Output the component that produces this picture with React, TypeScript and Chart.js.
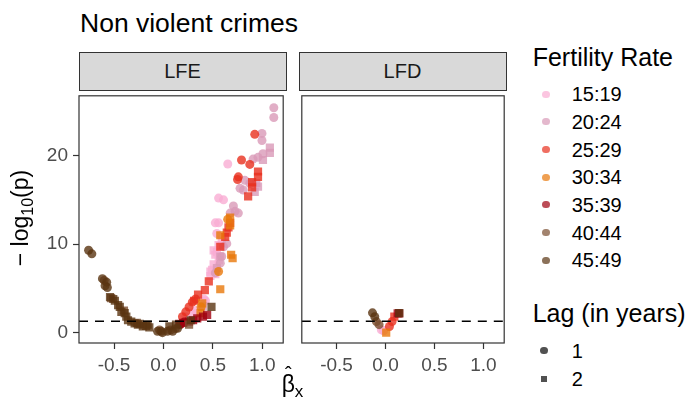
import React, { useEffect, useRef } from "react";
import { Chart, registerables } from "chart.js";
Chart.register(...registerables);

// ---------- data ----------
const CATEGORIES = ["15:19", "20:24", "25:29", "30:34", "35:39", "40:44", "45:49"];
const COLORS = ["#F9ADD3", "#D99AB8", "#E8301E", "#E8780A", "#A0000F", "#7A4E30", "#5A3512"];
const LAGS = ["1", "2"];
const PANELS = ["LFE", "LFD"];
const X_TICKS = [-0.5, 0, 0.5, 1.0];
const Y_TICKS = [0, 10, 20];
const X_LIMITS = [-0.855, 1.212];
const Y_LIMITS = [-1.17, 26.75];
const THRESHOLD = 1.3;

type P = [number, number];

// LFE panel: [beta, -log10(p)]
const LFE_F1519_L1: P[] = [[0.651, 19.05], [0.558, 15.2], [0.608, 15.0], [0.525, 12.4], [0.558, 12.4], [0.425, 3.6], [0.409, 3.8], [0.326, 2.5], [0.226, 1.8], [0.54, 11.2]];
const LFE_F1519_L2: P[] = [[0.59, 10.4], [0.558, 9.9], [0.541, 9.1], [0.508, 9.3], [0.525, 8.8], [0.508, 7.7], [0.492, 7.1], [0.475, 6.9], [0.525, 6.6], [0.475, 6.4], [0.3, 2.2], [0.56, 8.2]];
const LFE_F2024_L1: P[] = [[1.117, 25.4], [1.117, 24.3], [0.997, 22.5], [0.997, 21.7], [1.007, 20.2], [0.957, 19.8], [0.907, 19.6], [0.824, 17.2], [0.874, 16.85], [0.775, 16.3], [0.808, 16.1], [0.708, 14.3], [0.725, 13.7], [0.675, 13.5], [0.758, 13.5], [0.641, 10.05], [0.608, 9.7], [0.59, 8.6], [0.575, 7.85], [0.525, 6.75]];
const LFE_F2024_L2: P[] = [[1.077, 20.9], [1.077, 20.3], [1.007, 19.5], [0.94, 16.9], [0.957, 16.5], [0.924, 15.9], [0.575, 8.6], [0.541, 7.3], [0.4, 3.0]];
const LFE_F2529_L1: P[] = [[0.924, 22.4], [0.79, 19.5], [0.874, 19.0], [0.758, 17.6], [0.75, 17.3], [0.326, 3.8], [0.292, 3.45], [0.259, 2.9], [0.226, 2.35], [0.192, 1.8]];
const LFE_F2529_L2: P[] = [[0.957, 18.2], [0.957, 17.6], [0.897, 17.0], [0.897, 16.4], [0.857, 15.4], [0.675, 12.4], [0.658, 11.9], [0.641, 11.3], [0.625, 10.8], [0.575, 9.7], [0.459, 5.8], [0.419, 4.8], [0.35, 4.3], [0.31, 3.6]];
const LFE_F3034_L1: P[] = [[0.558, 6.9], [0.38, 2.9], [0.65, 12.8]];
const LFE_F3034_L2: P[] = [[0.685, 8.8], [0.7, 8.4], [0.575, 4.9], [0.392, 3.3], [0.375, 2.2], [0.675, 13.0], [0.675, 12.1], [0.575, 11.0]];
const LFE_F3539_L1: P[] = [[0.17, 0.9], [0.21, 1.2]];
const LFE_F3539_L2: P[] = [[0.16, 1.0], [0.2, 1.1], [0.259, 1.25], [0.3, 1.4], [0.342, 1.6], [0.4, 1.8], [0.442, 2.0]];
const LFE_F4044_L1: P[] = [[-0.6, 5.9], [-0.04, 0.3], [0.07, 0.3], [0.12, 0.45]];
const LFE_F4044_L2: P[] = [[-0.53, 3.9], [-0.4, 2.5], [-0.27, 1.1], [0.259, 0.9]];
const LFE_F4549_L1: P[] = [[-0.758, 9.3], [-0.725, 8.9], [-0.618, 6.1], [-0.591, 5.3], [-0.575, 5.7], [-0.568, 5.1], [-0.06, 0.15], [-0.01, 0.0], [0.04, 0.15], [-0.023, 0.15], [0.093, 0.15], [0.143, 0.5]];
const LFE_F4549_L2: P[] = [[-0.541, 4.0], [-0.508, 3.8], [-0.492, 3.6], [-0.459, 3.1], [-0.442, 2.9], [-0.426, 2.35], [-0.392, 2.2], [-0.376, 1.8], [-0.359, 1.4], [-0.326, 1.25], [-0.292, 1.05], [-0.259, 0.9], [-0.24, 1.0], [-0.209, 0.7], [-0.175, 0.75], [-0.16, 0.9], [-0.143, 0.6], [0.06, 0.7], [0.127, 0.9], [0.276, 1.4], [0.486, 2.9]];

// LFD panel
const LFD_F1519_L1: P[] = [[-0.043, 0.33], [-0.02, 0.2]];
const LFD_F2529_L1: P[] = [[0.04, 0.7], [0.067, 1.25]];
const LFD_F2529_L2: P[] = [[0.09, 1.8]];
const LFD_F3034_L2: P[] = [[0.007, 0.0]];
const LFD_F3539_L2: P[] = [[0.124, 2.17], [0.14, 2.17]];
const LFD_F4044_L1: P[] = [[-0.093, 1.25], [-0.066, 0.9]];
const LFD_F4549_L1: P[] = [[-0.133, 2.24], [-0.11, 1.8]];
const LFD_F4549_L2: P[] = [[0.14, 2.2]];

// table: [category][lag]
const LFE_TABLE: P[][][] = [
  [LFE_F1519_L1, LFE_F1519_L2],
  [LFE_F2024_L1, LFE_F2024_L2],
  [LFE_F2529_L1, LFE_F2529_L2],
  [LFE_F3034_L1, LFE_F3034_L2],
  [LFE_F3539_L1, LFE_F3539_L2],
  [LFE_F4044_L1, LFE_F4044_L2],
  [LFE_F4549_L1, LFE_F4549_L2],
];
const LFD_TABLE: P[][][] = [
  [LFD_F1519_L1, []],
  [[], []],
  [LFD_F2529_L1, LFD_F2529_L2],
  [[], LFD_F3034_L2],
  [[], LFD_F3539_L2],
  [LFD_F4044_L1, []],
  [LFD_F4549_L1, LFD_F4549_L2],
];

// ---------- helpers ----------
const FONT = "'Liberation Sans', Arial, Helvetica, sans-serif";
const ALPHA = 0.8;
function rgba(hex: string, a: number) {
  const n = parseInt(hex.slice(1), 16);
  return `rgba(${(n >> 16) & 255},${(n >> 8) & 255},${n & 255},${a})`;
}

function buildDatasets(table: P[][][]) {
  const ds: any[] = [];
  for (let c = CATEGORIES.length - 1; c >= 0; c--) {
    for (let l = 0; l < LAGS.length; l++) {
      const pts = table[c][l];
      if (!pts.length) continue;
      ds.push({
        label: `${CATEGORIES[c]} lag ${LAGS[l]}`,
        data: pts.map(([x, y]) => ({ x, y })),
        pointStyle: l === 0 ? "circle" : "rect",
        pointRadius: l === 0 ? 4.5 : 5.8,
        pointBorderWidth: 0,
        borderWidth: 0,
        backgroundColor: rgba(COLORS[c], ALPHA),
        pointBackgroundColor: rgba(COLORS[c], ALPHA),
        showLine: false,
      });
    }
  }
  return ds;
}

const panelPlugin = {
  id: "panelDecor",
  afterDatasetsDraw(chart: any) {
    const { ctx, chartArea: a, scales } = chart;
    const py = scales.y.getPixelForValue(THRESHOLD);
    ctx.save();
    ctx.setLineDash([9, 7]);
    ctx.lineWidth = 1.5;
    ctx.strokeStyle = "#000";
    ctx.beginPath();
    ctx.moveTo(a.left, py);
    ctx.lineTo(a.right, py);
    ctx.stroke();
    ctx.setLineDash([]);
    ctx.strokeStyle = "#333333";
    ctx.lineWidth = 1.2;
    ctx.strokeRect(a.left, a.top, a.right - a.left, a.bottom - a.top);
    ctx.restore();
  },
};

function makeOptions(showY: boolean, padding: any) {
  const tickFont = { family: FONT, size: 19 };
  const grid = {
    display: true,
    drawOnChartArea: false,
    drawTicks: true,
    tickLength: 6,
    tickColor: "#333333",
    tickWidth: 1.2,
  };
  return {
    animation: false,
    responsive: false,
    maintainAspectRatio: false,
    devicePixelRatio: 1,
    events: [],
    layout: { padding },
    plugins: { legend: { display: false }, tooltip: { enabled: false } },
    scales: {
      x: {
        type: "linear",
        min: X_LIMITS[0],
        max: X_LIMITS[1],
        afterBuildTicks: (s: any) => {
          s.ticks = X_TICKS.map((v) => ({ value: v }));
        },
        afterFit: (s: any) => {
          s.height = 76;
          s.paddingLeft = 0;
          s.paddingRight = 0;
        },
        grid,
        border: { display: false },
        ticks: {
          font: tickFont,
          color: "#4D4D4D",
          padding: 5,
          maxRotation: 0,
          autoSkip: false,
          callback: (v: number) => Number(v).toFixed(1),
        },
      },
      y: {
        type: "linear",
        display: showY,
        min: Y_LIMITS[0],
        max: Y_LIMITS[1],
        afterBuildTicks: (s: any) => {
          s.ticks = Y_TICKS.map((v) => ({ value: v }));
        },
        afterFit: (s: any) => {
          s.width = showY ? 79 : 0;
          s.paddingTop = 0;
          s.paddingBottom = 0;
        },
        grid,
        border: { display: false },
        ticks: {
          font: tickFont,
          color: "#4D4D4D",
          padding: 5,
          autoSkip: false,
          callback: (v: number) => String(v),
        },
      },
    },
  };
}

function PanelChart(props: { table: P[][][]; showY: boolean; left: number; width: number; padding: any }) {
  const ref = useRef<HTMLCanvasElement | null>(null);
  useEffect(() => {
    if (!ref.current) return;
    const chart = new Chart(ref.current, {
      type: "scatter",
      data: { datasets: buildDatasets(props.table) },
      options: makeOptions(props.showY, props.padding) as any,
      plugins: [panelPlugin],
    });
    return () => chart.destroy();
  }, []);
  return (
    <canvas
      ref={ref}
      width={props.width}
      height={329}
      style={{ position: "absolute", left: props.left, top: 90, width: props.width, height: 329 }}
    />
  );
}

function Txt(props: { x: number; cy: number; size: number; children: any; color?: string }) {
  const f = props.size;
  return (
    <div
      style={{
        position: "absolute",
        left: props.x,
        top: props.cy - 0.4885 * f,
        fontSize: f,
        lineHeight: `${f}px`,
        fontFamily: FONT,
        color: props.color || "#000",
        whiteSpace: "nowrap",
      }}
    >
      {props.children}
    </div>
  );
}

function Strip(props: { left: number; right: number; label: string }) {
  return (
    <div
      style={{
        position: "absolute",
        left: props.left - 0.5,
        top: 51.5,
        width: props.right - props.left,
        height: 39,
        background: "#D9D9D9",
        border: "1.2px solid #333333",
        boxSizing: "border-box",
        textAlign: "center",
        fontFamily: FONT,
        fontSize: 20,
        lineHeight: "37px",
        color: "#1A1A1A",
      }}
    >
      {props.label}
    </div>
  );
}

export default function App() {
  const legendY0 = 94.2;
  const legendStep = 27.65;
  return (
    <div
      style={{
        position: "absolute",
        left: 0,
        top: 0,
        width: 689,
        height: 419,
        overflow: "hidden",
        background: "#fff",
      }}
    >
      <Txt x={80} cy={22.8} size={26.5}>Non violent crimes</Txt>

      <Strip left={79} right={287} label={PANELS[0]} />
      <Strip left={299} right={507} label={PANELS[1]} />

      <PanelChart table={LFE_TABLE} showY={true} left={0} width={289} padding={{ left: 0, right: 3, top: 1, bottom: 0 }} />
      <PanelChart table={LFD_TABLE} showY={false} left={296} width={214} padding={{ left: 3, right: 4, top: 1, bottom: 0 }} />

      {/* y axis title */}
      <div
        style={{
          position: "absolute",
          left: 20 - 70,
          top: 218 - 14,
          width: 140,
          height: 28,
          lineHeight: "28px",
          textAlign: "center",
          transform: "rotate(-90deg)",
          fontFamily: FONT,
          fontSize: 23,
          color: "#000",
          whiteSpace: "nowrap",
        }}
      >
        <span>−&nbsp;log</span>
        <span style={{ fontSize: 16, position: "relative", top: 5 }}>10</span>
        <span>(p)</span>
      </div>

      {/* x axis title: beta hat sub x */}
      <div
        style={{
          position: "absolute",
          left: 292.5 - 40,
          top: 373,
          width: 80,
          height: 30,
          textAlign: "center",
          fontFamily: FONT,
          fontSize: 23,
          lineHeight: "23px",
          color: "#000",
          whiteSpace: "nowrap",
        }}
      >
        <span style={{ position: "relative", display: "inline-block" }}>
          <span style={{ position: "absolute", left: 0, right: 0, top: -10, textAlign: "center", fontSize: 20 }}>ˆ</span>
          β
        </span>
        <span style={{ fontSize: 17, position: "relative", top: 5 }}>x</span>
      </div>

      {/* Fertility legend */}
      <Txt x={532.7} cy={57} size={25}>Fertility Rate</Txt>
      {CATEGORIES.map((c, i) => (
        <React.Fragment key={c}>
          <div
            style={{
              position: "absolute",
              left: 546 - 3.6,
              top: legendY0 + i * legendStep - 3.6,
              width: 7.2,
              height: 7.2,
              borderRadius: "50%",
              background: rgba(COLORS[i], 0.7),
            }}
          />
          <Txt x={571.7} cy={legendY0 + i * legendStep} size={20}>{c}</Txt>
        </React.Fragment>
      ))}

      {/* Lag legend */}
      <Txt x={532.7} cy={313.3} size={25}>Lag (in years)</Txt>
      <div
        style={{
          position: "absolute",
          left: 544 - 3.6,
          top: 350.8 - 3.6,
          width: 7.2,
          height: 7.2,
          borderRadius: "50%",
          background: "rgba(51,51,51,0.85)",
        }}
      />
      <Txt x={571.7} cy={350.8} size={20}>{LAGS[0]}</Txt>
      <div
        style={{
          position: "absolute",
          left: 544 - 3,
          top: 379.2 - 3,
          width: 6,
          height: 6,
          background: "rgba(51,51,51,0.85)",
        }}
      />
      <Txt x={571.7} cy={379.2} size={20}>{LAGS[1]}</Txt>
    </div>
  );
}
